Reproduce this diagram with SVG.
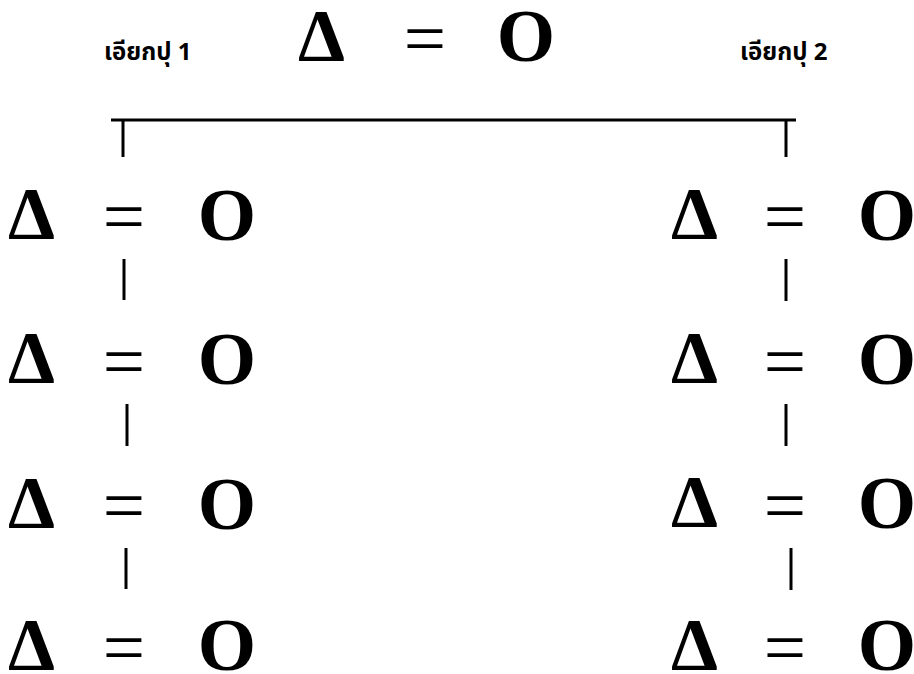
<svg xmlns="http://www.w3.org/2000/svg" width="914" height="674" viewBox="0 0 914 674">
<style>
.g{font-family:"Liberation Serif","Times New Roman",serif;font-weight:bold;font-size:75px;fill:#000;text-anchor:middle}
.e{font-family:"Liberation Serif","Times New Roman",serif;font-weight:normal;font-size:75px;fill:#000;text-anchor:middle}
.t{font-family:"Noto Sans Thai","Noto Sans","DejaVu Sans",sans-serif;font-weight:bold;font-size:24px;fill:#000}
.c{stroke:#000;stroke-width:3;fill:none}
</style>
<rect width="914" height="674" fill="#fff"/>
<g id="top"><text class="g" x="321.5" y="61">Δ</text><text class="e" x="425" y="63">=</text><text class="g" x="526" y="61">O</text></g>
<g id="label1"><text class="t" x="104" y="60">เอียกปุ 1</text></g>
<g id="label2"><text class="t" x="740" y="60">เอียกปุ 2</text></g>
<g id="L1"><text class="g" x="31.5" y="239">Δ</text><text class="e" x="124" y="241">=</text><text class="g" x="227" y="240">O</text></g>
<g id="L2"><text class="g" x="31.5" y="383">Δ</text><text class="e" x="124" y="386">=</text><text class="g" x="227" y="384">O</text></g>
<g id="L3"><text class="g" x="31.5" y="528">Δ</text><text class="e" x="124" y="530">=</text><text class="g" x="227" y="529">O</text></g>
<g id="L4"><text class="g" x="31.5" y="670">Δ</text><text class="e" x="124" y="672">=</text><text class="g" x="227" y="670">O</text></g>
<g id="R1"><text class="g" x="694.5" y="239">Δ</text><text class="e" x="785" y="241">=</text><text class="g" x="887" y="240">O</text></g>
<g id="R2"><text class="g" x="694.5" y="383">Δ</text><text class="e" x="785" y="386">=</text><text class="g" x="887" y="384">O</text></g>
<g id="R3"><text class="g" x="694.5" y="527">Δ</text><text class="e" x="785" y="530">=</text><text class="g" x="887" y="528">O</text></g>
<g id="R4"><text class="g" x="694.5" y="670">Δ</text><text class="e" x="785" y="672">=</text><text class="g" x="887" y="670">O</text></g>
<g id="connectors" class="c">
<path d="M111 120H796"/>
<path d="M123 120V157"/>
<path d="M786 120V157"/>
<path d="M124 259V300"/>
<path d="M127 404V446"/>
<path d="M126 548V589"/>
<path d="M786 259V301"/>
<path d="M786 404V446"/>
<path d="M791 548V590"/>
</g>
</svg>
